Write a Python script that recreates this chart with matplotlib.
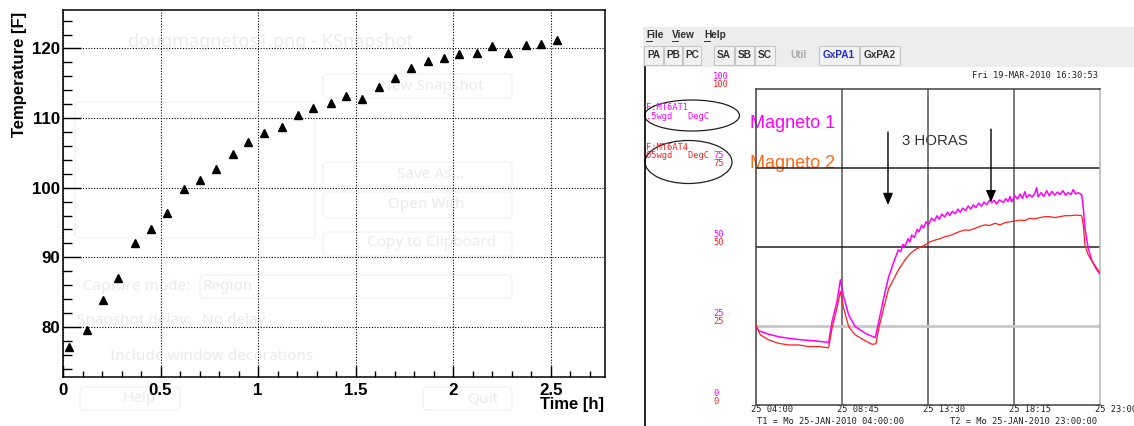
import matplotlib
matplotlib.use("Agg")
import matplotlib.pyplot as plt
from matplotlib.patches import Ellipse, Rectangle, FancyBboxPatch
from matplotlib.ticker import MultipleLocator, FuncFormatter
from matplotlib import transforms

# ---- ROOT canvas: magnet temperature vs time ----
time_h = [0.031, 0.123, 0.203, 0.282, 0.371, 0.451, 0.532, 0.621, 0.703, 0.783,
          0.872, 0.950, 1.032, 1.121, 1.202, 1.282, 1.371, 1.451, 1.532, 1.621,
          1.703, 1.781, 1.870, 1.950, 2.031, 2.122, 2.200, 2.281, 2.373, 2.451, 2.532]
temp_f = [77.1, 79.5, 83.9, 87.0, 92.1, 94.0, 96.4, 99.8, 101.1, 102.7,
          104.8, 106.6, 107.9, 108.7, 110.4, 111.4, 112.2, 113.2, 112.8, 114.4,
          115.8, 117.2, 118.2, 118.7, 119.2, 119.4, 120.4, 119.4, 120.5, 120.7, 121.2]

# ---- chart recorder: two magnet probes, hour of 25-JAN-2010 ----
trace_hours_1 = [4.00, 4.15, 4.70, 5.25, 5.81, 6.54, 7.28, 8.01, 8.20, 8.47, 8.66, 8.84,
                 9.12, 9.48, 10.04, 10.59, 10.78, 11.05, 11.33, 11.58, 11.86,
                 12.00, 12.10, 12.23, 12.40, 12.50, 12.60, 12.75, 12.90, 13.00, 13.15,
                 13.25, 13.40, 13.52, 13.70, 13.85, 14.00, 14.12, 14.26, 14.42, 14.58,
                 14.70, 14.85, 15.00, 15.15, 15.28, 15.42, 15.58, 15.72, 15.86, 16.00,
                 16.15, 16.30, 16.45, 16.60, 16.75, 16.90, 17.02, 17.15, 17.29, 17.45,
                 17.66, 17.80, 17.92, 18.03, 18.12, 18.30, 18.45, 18.58, 18.72, 18.85,
                 18.95, 19.10, 19.25, 19.40, 19.50, 19.58, 19.75, 19.90, 20.06, 20.20,
                 20.35, 20.50, 20.65, 20.79, 20.95, 21.10, 21.25, 21.40, 21.52, 21.65,
                 21.80, 21.99, 22.08, 22.17, 22.35, 22.54, 22.78, 22.96]
magneto1 = [24.8, 23.5, 22.4, 21.6, 21.1, 20.6, 20.3, 19.8, 26.4, 32.7, 39.6, 34.3,
            28.5, 24.8, 22.7, 21.3, 26.4, 33.8, 40.6, 44.8, 49.1,
            48.5, 50.8, 50.2, 52.6, 51.6, 53.8, 53.0, 55.6, 54.8, 56.9,
            56.0, 58.0, 57.0, 59.1, 58.2, 59.9, 58.8, 60.4, 59.5, 61.0,
            60.0, 61.3, 60.5, 62.0, 61.0, 62.3, 61.5, 63.0, 62.0, 63.3,
            62.5, 63.9, 62.9, 64.2, 63.4, 64.8, 64.0, 64.8, 63.6, 64.9,
            64.1, 65.3, 64.4, 66.0, 64.3, 66.2, 65.2, 66.8, 65.4, 67.5,
            65.6, 66.6, 65.8, 67.0, 68.8, 65.9, 67.2, 66.0, 67.8, 66.2,
            67.6, 66.4, 67.4, 66.6, 67.8, 66.4, 67.2, 66.6, 68.2, 66.8,
            67.2, 66.5, 62.2, 55.9, 49.6, 45.9, 43.2, 41.7]

trace_hours_2 = [4.00, 4.24, 4.70, 5.25, 5.81, 6.36, 6.91, 7.46, 8.01, 8.20,
                 8.47, 8.66, 8.84, 9.12, 9.48, 10.04, 10.41, 10.63, 10.78, 11.05,
                 11.33, 11.49, 11.86, 12.23, 12.50, 12.78, 13.05, 13.33, 13.60, 13.89,
                 14.15, 14.44, 14.70, 14.99, 15.25, 15.54, 15.80, 16.10, 16.40, 16.65,
                 16.90, 17.20, 17.48, 17.75, 18.03, 18.30, 18.58, 18.85, 19.13, 19.40,
                 19.69, 19.95, 20.24, 20.50, 20.79, 21.05, 21.34, 21.71, 21.99, 22.08,
                 22.17, 22.35, 22.63, 22.96]
magneto2 = [25.3, 22.2, 20.6, 19.5, 19.0, 19.0, 18.5, 18.5, 18.1, 24.3,
            30.6, 35.9, 30.6, 24.8, 22.2, 20.3, 19.2, 19.4, 24.3, 30.6,
            36.9, 38.5, 42.7, 45.9, 47.8, 49.1, 49.9, 50.6, 51.6, 52.2,
            52.6, 53.3, 53.6, 54.3, 54.9, 55.4, 55.3, 55.9, 56.6, 57.0,
            56.8, 57.5, 57.0, 57.7, 58.0, 58.2, 58.5, 58.4, 59.1, 58.9,
            59.3, 59.6, 59.6, 59.3, 59.6, 59.9, 59.9, 60.1, 59.9, 57.0,
            50.6, 47.5, 44.8, 42.2]

time_ticks = [4.0, 8.75, 13.5, 18.25, 23.0]
time_tick_labels = ["25 04:00", "25 08:45", "25 13:30", "25 18:15", "25 23:00"]
scale_ticks = [0, 25, 50, 75, 100]
scale_tick_labels = ["0", "25", "50", "75", "100"]

MAGENTA = "#ff00ff"
RED = "#ff1e1e"
ORANGE = "#ff6a1a"
MONO = "DejaVu Sans Mono"

W, H = 1134, 426
plt.rcParams["font.family"] = ["Liberation Sans", "DejaVu Sans"]
fig = plt.figure(figsize=(W / 100, H / 100), dpi=100)
fig.patch.set_facecolor("white")


def add_px_axes(left, top, right, bottom):
    return fig.add_axes([left / W, 1 - bottom / H, (right - left) / W, (bottom - top) / H])


# full-figure layer in pixel units (origin top-left) for window chrome
ui = fig.add_axes([0, 0, 1, 1])
ui.set_xlim(0, W)
ui.set_ylim(H, 0)
ui.axis("off")

# faint KSnapshot dialog showing through the ROOT canvas
faint = "#ebebeb"
for x0, y0, x1, y1 in [(323, 74, 512, 98), (323, 162, 512, 186), (323, 192, 512, 218),
                       (323, 232, 512, 256), (200, 275, 512, 298), (80, 387, 180, 410),
                       (423, 387, 512, 410), (75, 102, 315, 238)]:
    ui.add_patch(FancyBboxPatch((x0, y0), x1 - x0, y1 - y0,
                                boxstyle="round,pad=0,rounding_size=4",
                                fc="none", ec="#f3f3f3", lw=1.0))
ui.text(128, 42, "dougmagnetos1.png - KSnapshot", fontsize=13, fontweight="bold",
        color=faint, va="center", family="Noto Sans")
for txt, x, y in [("New Snapshot", 380, 87), ("Save As...", 397, 174),
                  ("Open With", 388, 205), ("Copy to Clipboard", 367, 243),
                  ("Capture mode:", 83, 286), ("Region", 203, 286),
                  ("Snapshot delay:", 77, 321), ("No delay", 202, 321),
                  ("Include window decorations", 110, 356),
                  ("Help", 122, 399), ("Quit", 467, 399)]:
    ui.text(x, y, txt, fontsize=11, color=faint, va="center", family="Noto Sans")

# ---- left panel ----
ax = add_px_axes(63, 9.5, 604.5, 377)
ax.patch.set_alpha(0)
ax.plot(time_h, temp_f, ls="none", marker="^", ms=5.4, color="black", zorder=3)
ax.set_xlim(0, 2.775)
ax.set_ylim(72.8, 125.6)
ax.xaxis.set_major_locator(MultipleLocator(0.5))
ax.xaxis.set_minor_locator(MultipleLocator(0.1))
ax.yaxis.set_major_locator(MultipleLocator(10))
ax.yaxis.set_minor_locator(MultipleLocator(2))
ax.xaxis.set_major_formatter(FuncFormatter(lambda v, p: f"{v:g}"))
ax.grid(True, which="major", color="black", lw=0.8, ls=(0, (1, 1.5)))
ax.tick_params(which="both", direction="in", color="black", width=1.0, labelsize=12.2,
               top=False, right=False)
ax.tick_params(axis="x", which="major", length=8, pad=4)
ax.tick_params(axis="x", which="minor", length=4)
ax.tick_params(axis="y", which="major", length=13, pad=2)
ax.tick_params(axis="y", which="minor", length=6.5)
for lab in ax.get_xticklabels() + ax.get_yticklabels():
    lab.set_fontweight("bold")
for sp in ax.spines.values():
    sp.set_linewidth(1.1)
ax.set_xlabel("Time [h]", loc="right", fontsize=12, fontweight="bold")
ax.xaxis.set_label_coords(1.0, -(397 - 377) / 367.5)
ax.set_ylabel("Temperature [F]", loc="top", fontsize=12, fontweight="bold")
ax.yaxis.set_label_coords(-(63 - 27) / 541.5, 1 - 2.5 / 367.5)

# ---- right panel: application window ----
ui.add_patch(Rectangle((643, 27), W - 643, 40, fc="#ededed", ec="none"))
ui.plot([645, 645], [67, H], color="black", lw=1.2)
menu_font = dict(fontsize=7.2, fontweight="bold", color="#303030", va="center")
for txt, x in [("File", 646), ("View", 672), ("Help", 704)]:
    ui.text(x, 35, txt, **menu_font)
    ui.plot([x, x + 6], [40.5, 40.5], color="#303030", lw=0.7)

buttons = [("PA", 644, 663), ("PB", 664, 682), ("PC", 683, 701),
           ("SA", 714, 734), ("SB", 735, 754), ("SC", 755, 775),
           ("Util", 784, 813), ("GxPA1", 819, 859), ("GxPA2", 860, 900)]
for txt, x0, x1 in buttons:
    flat = txt == "Util"
    ui.add_patch(Rectangle((x0, 46), x1 - x0, 19, fc="#f2f2f2" if not flat else "#ededed",
                           ec="#c6c6c6" if not flat else "none", lw=0.8))
    color = "#1f2bd6" if txt == "GxPA1" else ("#a8a8a8" if flat else "#303030")
    ui.text((x0 + x1) / 2, 55.5, txt, fontsize=7.2, fontweight="bold", color=color,
            ha="center", va="center")

ui.text(972, 76, "Fri 19-MAR-2010 16:30:53", family=MONO, fontsize=6.3,
        color="#202020", va="center")

# probe legends
ui.add_patch(Ellipse((692, 115.5), 95, 31, fill=False, ec="#202020", lw=0.9))
ui.add_patch(Ellipse((688.5, 162), 87, 43, fill=False, ec="#202020", lw=0.9))
for txt, y, c in [("F:MT6AT1", 108, MAGENTA), (".5wgd   DegC", 116.7, MAGENTA),
                  ("F:MT6AT4", 147.3, RED), ("05wgd   DegC", 155.7, RED)]:
    ui.text(646, y, txt, family=MONO, fontsize=6.3, color=c, va="center")

ax_r = add_px_axes(756, 89, 1100, 405)
ax_r.patch.set_alpha(0)
ax_r.set_xlim(time_ticks[0], time_ticks[-1])
ax_r.set_ylim(scale_ticks[0], scale_ticks[-1])
ax_r.set_xticks([])
ax_r.set_yticks([])
for t in time_ticks[1:-1]:
    ax_r.axvline(t, color="#555555", lw=1.1, zorder=1)
for v in scale_ticks[1:-1]:
    if v == 25:
        ax_r.axhline(v, color="#c8c8c8", lw=2.0, zorder=1)
    else:
        ax_r.axhline(v, color="#202020", lw=1.1, zorder=1)
for side in ("top", "left", "bottom"):
    ax_r.spines[side].set_color("#404040")
    ax_r.spines[side].set_linewidth(1.1)
ax_r.spines["right"].set_color("#b4b4b4")
ax_r.spines["right"].set_linewidth(1.1)

ax_r.plot(trace_hours_1, magneto1, color=MAGENTA, lw=1.1, zorder=3)
ax_r.plot(trace_hours_2, magneto2, color=RED, lw=0.9, zorder=4)

# scale numbers: upper copy for probe 1, lower copy for probe 2
scale_tr = transforms.blended_transform_factory(ui.transData, ax_r.transData)
for v, lab in zip(scale_ticks, scale_tick_labels):
    ui.text(713, v, lab, family=MONO, fontsize=6.3, color=MAGENTA, va="center",
            transform=transforms.offset_copy(scale_tr, fig=fig, y=12, units="dots"))
    ui.text(713, v, lab, family=MONO, fontsize=6.3, color=RED, va="center",
            transform=transforms.offset_copy(scale_tr, fig=fig, y=4, units="dots"))

time_tr = transforms.blended_transform_factory(ax_r.transData, ui.transData)
for t, lab in zip(time_ticks, time_tick_labels):
    ui.text(t, 410, lab, family=MONO, fontsize=6.3, color="#202020", va="center",
            transform=transforms.offset_copy(time_tr, fig=fig, x=-5, units="dots"))

ui.text(757, 422, "T1 = Mo 25-JAN-2010 04:00:00", family=MONO, fontsize=6.3,
        color="#202020", va="center")
ui.text(950, 422, "T2 = Mo 25-JAN-2010 23:00:00", family=MONO, fontsize=6.3,
        color="#202020", va="center")

ui.text(750, 124, "Magneto 1", fontsize=13, color=MAGENTA, va="center")
ui.text(750, 164, "Magneto 2", fontsize=13, color=ORANGE, va="center")
ui.text(902, 141, "3 HORAS", fontsize=10.8, color="#333333", va="center")

arrow = dict(arrowstyle="-|>,head_length=0.7,head_width=0.3", color="black", lw=1.0,
             shrinkA=0, shrinkB=0)
ax_r.annotate("", xy=(11.29, 63.3), xytext=(11.29, 86.4), arrowprops=arrow,
              annotation_clip=False)
ax_r.annotate("", xy=(16.98, 64.2), xytext=(16.98, 87.3), arrowprops=arrow,
              annotation_clip=False)

fig.savefig("out.png", dpi=100, facecolor="white")
